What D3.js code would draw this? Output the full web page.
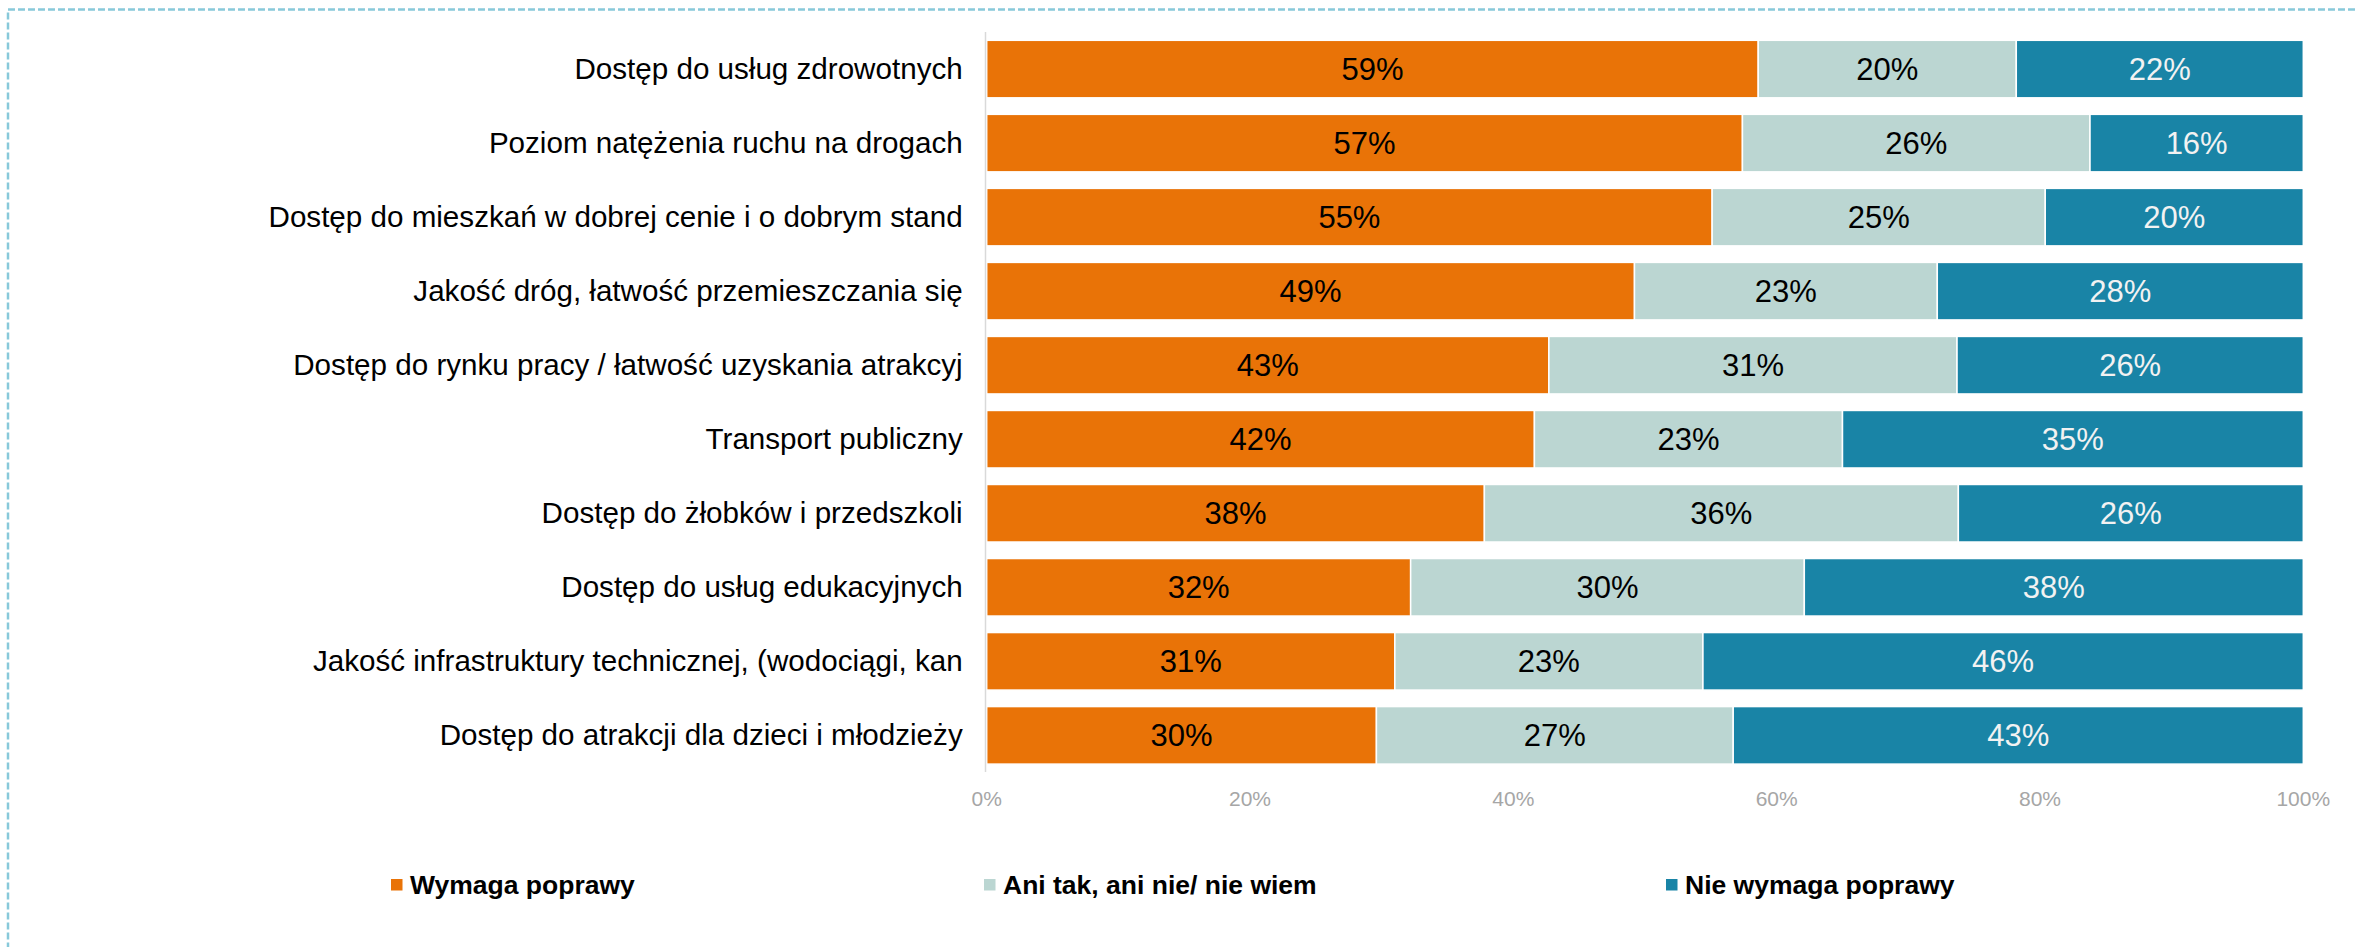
<!DOCTYPE html>
<html>
<head>
<meta charset="utf-8">
<script src="https://cdn.jsdelivr.net/npm/d3@7/dist/d3.min.js"></script>
<style>
  html, body { margin: 0; padding: 0; background: #fff; }
  svg { display: block; }
</style>
</head>
<body>
<svg id="chart" width="2358" height="947"></svg>
<script>
const categories = [
  "Dostęp do usług zdrowotnych",
  "Poziom natężenia ruchu na drogach",
  "Dostęp do mieszkań w dobrej cenie i o dobrym stand",
  "Jakość dróg, łatwość przemieszczania się",
  "Dostęp do rynku pracy / łatwość uzyskania atrakcyj",
  "Transport publiczny",
  "Dostęp do żłobków i przedszkoli",
  "Dostęp do usług edukacyjnych",
  "Jakość infrastruktury technicznej, (wodociągi, kan",
  "Dostęp do atrakcji dla dzieci i młodzieży"
];
const seriesNames = ["Wymaga poprawy", "Ani tak, ani nie/ nie wiem", "Nie wymaga poprawy"];
const wymagaPoprawy    = [58.6, 57.4, 55.1, 49.2, 42.7, 41.6, 37.8, 32.2, 31.0, 29.6];
const aniTakAniNie     = [19.6, 26.4, 25.3, 23.0, 31.0, 23.4, 36.0, 29.9, 23.4, 27.1];
const nieWymagaPoprawy = [21.8, 16.2, 19.6, 27.8, 26.3, 35.0, 26.2, 37.9, 45.6, 43.3];
const xTicks = [0, 20, 40, 60, 80, 100];

const colors = ["#E97307", "#BBD6D2", "#1984A6"];
const labelColors = ["#000000", "#000000", "#F2F2F2"];

const rows = categories.map((c, i) => ({
  cat: c,
  s0: wymagaPoprawy[i],
  s1: aniTakAniNie[i],
  s2: nieWymagaPoprawy[i]
}));
const keys = ["s0", "s1", "s2"];

const svg = d3.select("#chart");
const FONT = "'Liberation Sans', Arial, Helvetica, sans-serif";

// dashed frame
svg.append("rect")
  .attr("x", 8).attr("y", 9.5)
  .attr("width", 2400).attr("height", 1000)
  .attr("fill", "none")
  .attr("stroke", "#88C9DA")
  .attr("stroke-width", 2.5)
  .attr("stroke-dasharray", "7,3");

const x = d3.scaleLinear().domain([0, 100]).range([986.7, 2303.3]);
const y = d3.scaleBand().domain(categories).range([23.8, 780.6])
  .paddingInner(0.223).paddingOuter(0.223);

const stacked = d3.stack().keys(keys)(rows);

// bars
const g = svg.append("g");
stacked.forEach((layer, li) => {
  g.selectAll(null).data(layer).enter().append("rect")
    .attr("x", d => x(d[0]))
    .attr("y", d => y(d.data.cat))
    .attr("width", d => x(d[1]) - x(d[0]))
    .attr("height", y.bandwidth())
    .attr("fill", colors[li])
    .attr("stroke", "#ffffff")
    .attr("stroke-width", 1.5);
  g.selectAll(null).data(layer).enter().append("text")
    .attr("x", d => (x(d[0]) + x(d[1])) / 2)
    .attr("y", d => y(d.data.cat) + y.bandwidth() / 2 + 11)
    .attr("text-anchor", "middle")
    .attr("font-family", FONT)
    .attr("font-size", 31)
    .attr("fill", labelColors[li])
    .text(d => d3.format(".0f")(d[1] - d[0]) + "%");
});

// category axis line
svg.append("line")
  .attr("x1", x(0) - 1.2).attr("x2", x(0) - 1.2)
  .attr("y1", 32).attr("y2", 772)
  .attr("stroke", "#D9D9D9").attr("stroke-width", 1.5);

// category labels
svg.append("g").selectAll("text").data(categories).enter().append("text")
  .attr("x", x(0) - 24)
  .attr("y", d => y(d) + y.bandwidth() / 2 + 10)
  .attr("text-anchor", "end")
  .attr("font-family", FONT)
  .attr("font-size", 29.6)
  .attr("fill", "#000")
  .text(d => d);

// x tick labels
svg.append("g").selectAll("text").data(xTicks).enter().append("text")
  .attr("x", d => x(d))
  .attr("y", 806)
  .attr("text-anchor", "middle")
  .attr("font-family", FONT)
  .attr("font-size", 21)
  .attr("fill", "#A6A6A6")
  .text(d => d + "%");

// legend
const legendX = [391, 984, 1666];
const lg = svg.append("g");
seriesNames.forEach((name, i) => {
  lg.append("rect")
    .attr("x", legendX[i]).attr("y", 879)
    .attr("width", 11.5).attr("height", 11.5)
    .attr("fill", colors[i]);
  lg.append("text")
    .attr("x", legendX[i] + 19)
    .attr("y", 894)
    .attr("font-family", FONT)
    .attr("font-size", 26.5)
    .attr("font-weight", "bold")
    .attr("fill", "#000")
    .text(name);
});
</script>
</body>
</html>
